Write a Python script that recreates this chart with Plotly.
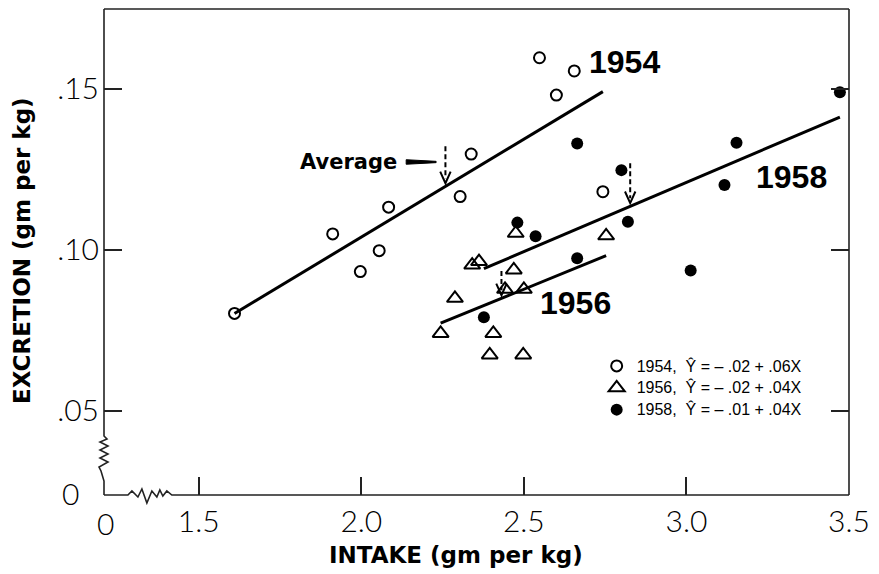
import plotly.graph_objects as go

# Nitrogen intake vs. excretion (gm per kg), one series per year
intake_1954 = [1.610, 1.912, 1.997, 2.055, 2.084, 2.304, 2.338, 2.548, 2.600, 2.655, 2.743]
excr_1954 = [0.0803, 0.1050, 0.0933, 0.0998, 0.1133, 0.1166, 0.1298, 0.1597, 0.1481, 0.1556, 0.1181]

intake_1956 = [2.244, 2.288, 2.341, 2.362, 2.395, 2.406, 2.442, 2.469, 2.475, 2.498, 2.500, 2.753]
excr_1956 = [0.0741, 0.0850, 0.0953, 0.0964, 0.0674, 0.0741, 0.0878, 0.0938, 0.1052, 0.0674, 0.0878, 0.1044]

intake_1958 = [2.377, 2.480, 2.536, 2.664, 2.664, 2.800, 2.820, 3.013, 3.117, 3.154, 3.472]
excr_1958 = [0.0791, 0.1085, 0.1043, 0.0974, 0.1331, 0.1248, 0.1088, 0.0936, 0.1202, 0.1333, 0.1490]

years = ["1954", "1956", "1958"]
# least-squares lines  Y = a + bX
fit_intercepts = [-0.0176, -0.0152, -0.0080]
fit_slopes = [0.0608, 0.0412, 0.0430]
legend_names = [
    "1954,  Ŷ = – .02 + .06X",
    "1956,  Ŷ = – .02 + .04X",
    "1958,  Ŷ = – .01 + .04X",
]

x_ticks = [1.5, 2.0, 2.5, 3.0, 3.5]
x_ticktext = ["1.5", "2.0", "2.5", "3.0", "3.5"]
y_ticks = [0.05, 0.10, 0.15]
y_ticktext = [".05", ".10", ".15"]

# ---- styling / placement ----
W, H = 879, 574
ML, MR, MT, MB = 104, 28, 9, 79
PW, PH = W - ML - MR, H - MT - MB
X_RANGE = [1.2086, 3.5]
Y_RANGE = [0.02391, 0.17484]

series = [
    (intake_1954, excr_1954, dict(symbol="circle-open", size=11, color="black", line=dict(width=2, color="black"))),
    (intake_1956, excr_1956, dict(symbol="triangle-up-open", size=14, color="black", line=dict(width=2, color="black"))),
    (intake_1958, excr_1958, dict(symbol="circle", size=12, color="black", line=dict(width=0))),
]
year_label_pos = [(2.810, 0.1584), (2.6595, 0.0835), (3.3236, 0.1227)]
arrow_len = [0.0115, 0.0075, 0.0124]
ARROW_TIP_OFF = 0.0010
HEAD_HW, HEAD_HH = 0.016, 0.0036

fig = go.Figure()

shapes = []
annotations = []

for i, (xs, ys, mk) in enumerate(series):
    a, b = fit_intercepts[i], fit_slopes[i]
    x0, x1 = min(xs), max(xs)
    # regression segment over the observed intake range
    fig.add_trace(go.Scatter(
        x=[x0, x1], y=[a + b * x0, a + b * x1], mode="lines",
        line=dict(color="black", width=3), showlegend=False, hoverinfo="skip"))
    fig.add_trace(go.Scatter(
        x=xs, y=ys, mode="markers", marker=mk,
        name=f'<span style="font-size:16px">{legend_names[i]}</span>'))

    # dashed arrow marking the average intake on the fitted line
    m = sum(xs) / len(xs)
    tip = a + b * m + ARROW_TIP_OFF
    top = tip + arrow_len[i]
    shapes.append(dict(type="line", xref="x", yref="y", x0=m, x1=m, y0=top, y1=tip + 0.0015,
                       line=dict(color="black", width=2, dash="5px,3px")))
    shapes.append(dict(type="path", xref="x", yref="y",
                       path=f"M{m - HEAD_HW},{tip + HEAD_HH} L{m},{tip} L{m + HEAD_HW},{tip + HEAD_HH}",
                       line=dict(color="black", width=2)))

    if i == 0:
        ly = tip + 0.0066
        shapes.append(dict(type="path", xref="x", yref="y",
                           path=(f"M{m - 0.1207},{ly + 0.0007} L{m - 0.0287},{ly + 0.0002} "
                                 f"L{m - 0.0287},{ly - 0.0002} L{m - 0.1207},{ly - 0.0007} Z"),
                           fillcolor="black", line=dict(color="black", width=1)))
        annotations.append(dict(x=m - 0.142, y=ly, xref="x", yref="y", text="Average",
                                showarrow=False, xanchor="right", yanchor="middle",
                                font=dict(family="DejaVu Sans", size=21, weight="bold", color="black")))

    lx, ly_ = year_label_pos[i]
    annotations.append(dict(x=lx, y=ly_, xref="x", yref="y", text=years[i], showarrow=False,
                            xanchor="center", yanchor="middle",
                            font=dict(family="Liberation Sans", size=32, weight="bold", color="black")))


def px_to_paper(dx, dy):
    return dx / PW, dy / PH


# frame with broken (wavy) segments near the origin
left = [(0, PH), (0, 59), (3, 56), (-4, 53), (4, 49), (-4, 45), (4, 41), (-4, 37), (4, 33),
        (-5, 28), (-3, 24), (0, 14), (0, 0)]
bottom = [(0, 0), (24, 0), (28, 4), (34, -2), (38, 6), (43, -8), (48, 4), (53, -2), (56, 5),
          (59, -1), (63, 4), (68, 0), (PW, 0)]


def path_of(pts):
    parts = []
    for k, (dx, dy) in enumerate(pts):
        px, py = px_to_paper(dx, dy)
        parts.append(("M" if k == 0 else "L") + f"{px:.5f},{py:.5f}")
    return " ".join(parts)


frame_line = dict(color="#222222", width=1.6)
shapes.append(dict(type="path", xref="paper", yref="paper", path=path_of(left), line=frame_line))
shapes.append(dict(type="path", xref="paper", yref="paper", path=path_of(bottom), line=frame_line))
shapes.append(dict(type="line", xref="paper", yref="paper", x0=0, x1=1, y0=1, y1=1, line=frame_line))
shapes.append(dict(type="line", xref="paper", yref="paper", x0=1, x1=1, y0=0, y1=1, line=frame_line))

tick_font = dict(family="Lato, Liberation Sans", size=30, weight=300, color="black")
title_font = dict(family="DejaVu Sans", size=23, weight="bold", color="black")

# origin labels for the broken axes
annotations.append(dict(x=0, y=0, xref="paper", yref="paper", text="0", showarrow=False,
                        xanchor="center", yanchor="middle", xshift=1.5, yshift=-28, font=tick_font))
annotations.append(dict(x=0, y=0, xref="paper", yref="paper", text="0", showarrow=False,
                        xanchor="center", yanchor="middle", xshift=-33.5, yshift=2, font=tick_font))

# axis titles
annotations.append(dict(x=(457 - ML) / PW, y=0, xref="paper", yref="paper", text="INTAKE (gm per kg)",
                        showarrow=False, xanchor="center", yanchor="middle", yshift=-60, font=title_font))
annotations.append(dict(x=0, y=(H - MB - 251) / PH, xref="paper", yref="paper",
                        text="EXCRETION (gm per kg)", textangle=-90, showarrow=False,
                        xanchor="center", yanchor="middle", xshift=-(ML - 22), font=title_font))

fig.update_layout(
    width=W, height=H,
    margin=dict(l=ML, r=MR, t=MT, b=MB, pad=0),
    paper_bgcolor="white", plot_bgcolor="white",
    shapes=shapes, annotations=annotations,
    showlegend=True,
    legend=dict(
        x=(598 - ML) / PW, y=(H - MB - 350) / PH, xanchor="left", yanchor="top",
        bgcolor="rgba(0,0,0,0)", borderwidth=0, tracegroupgap=0,
        font=dict(family="Liberation Sans", size=14.5, color="black"),
    ),
    xaxis=dict(
        range=X_RANGE, tickvals=x_ticks, ticktext=x_ticktext,
        showgrid=False, zeroline=False, showline=False,
        ticks="inside", ticklen=18, tickwidth=1.5, tickcolor="#222222",
        tickfont=tick_font, ticklabelstandoff=6,
    ),
    yaxis=dict(
        range=Y_RANGE, tickvals=y_ticks, ticktext=y_ticktext,
        showgrid=False, zeroline=False, showline=False, mirror="ticks",
        ticks="inside", ticklen=18, tickwidth=1.5, tickcolor="#222222",
        tickfont=tick_font, ticklabelstandoff=4,
    ),
)

fig.write_html("out.html")
